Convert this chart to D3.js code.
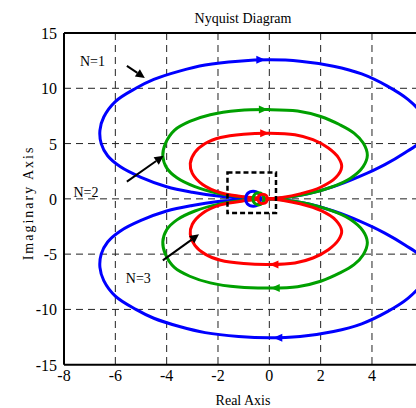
<!DOCTYPE html>
<html>
<head>
<meta charset="utf-8">
<script src="https://d3js.org/d3.v7.min.js"></script>
<style>
  body { margin: 0; background: #fff; }
  text { font-family: "Liberation Serif", "Times New Roman", serif; fill: #000; }
</style>
</head>
<body>
<div id="chart"></div>
<script>
// Tick labels
var xTicks = [-8, -6, -4, -2, 0, 2, 4];
var yTicks = [-15, -10, -5, 0, 5, 10, 15];
var xGrid = [-6, -4, -2, 0, 2, 4, 6];
var yGrid = [-10, -5, 0, 5, 10];

// Upper half of each Nyquist curve (positive frequencies), [real, imag]
var blueRe = [0, -1, -2, -3, -4, -5, -5.8, -6.3, -6.55, -6.6, -6.45, -6.0, -5.2, -4.5, -3.5, -2.5, -1.2, 0, 1.2, 2.5, 3.6, 4.6, 5.4, 5.9, 6.1, 5.9, 5.3, 4.5, 3.5, 2.5, 1.5, 0.6, 0];
var blueIm = [0, 0.06, 0.25, 0.6, 1.1, 1.95, 2.9, 3.9, 5.0, 6.2, 7.4, 8.8, 10.0, 10.8, 11.55, 12.1, 12.45, 12.57, 12.45, 12.0, 11.3, 10.2, 9.0, 7.8, 6.5, 5.2, 4.2, 3.1, 2.0, 1.1, 0.45, 0.1, 0];

var greenRe = [0, -1, -2, -2.9, -3.6, -4.0, -4.15, -4.05, -3.7, -3.1, -2.3, -1.2, 0, 1.1, 2.0, 2.75, 3.3, 3.66, 3.82, 3.65, 3.15, 2.4, 1.3, 0.5, 0];
var greenIm = [0, 0.15, 0.5, 1.1, 1.9, 2.8, 3.9, 5.0, 6.2, 7.0, 7.6, 7.98, 8.07, 7.95, 7.45, 6.7, 5.95, 5.05, 3.95, 2.9, 1.85, 1.05, 0.36, 0.08, 0];

var redRe = [0, -1, -1.9, -2.6, -3.0, -3.08, -2.9, -2.5, -1.9, -1.0, 0, 1.0, 1.7, 2.3, 2.7, 2.82, 2.6, 2.0, 1.2, 0.5, 0];
var redIm = [0, 0.18, 0.55, 1.3, 2.3, 3.2, 4.2, 5.0, 5.55, 5.85, 5.94, 5.8, 5.35, 4.6, 3.7, 2.9, 1.95, 1.05, 0.45, 0.12, 0];

// Small loops close to the origin (upper half)
var blueLoopRe = [-0.34, -0.4, -0.63, -0.86, -0.92];
var blueLoopIm = [0, 0.45, 0.68, 0.45, 0];
var greenLoopRe = [-0.2, -0.26, -0.42, -0.58, -0.64];
var greenLoopIm = [0, 0.38, 0.55, 0.38, 0];
var redLoopRe = [-0.08, -0.12, -0.26, -0.4, -0.44];
var redLoopIm = [0, 0.3, 0.42, 0.3, 0];

// Direction arrows on the top of each upper lobe
var arrowRe = [-0.35, -0.25, -0.2];
var arrowIm = [12.57, 8.07, 5.94];

var colors = ["#0000ff", "#00a000", "#ff0000"];

// Annotations: label text, label position, arrow tail and head
var noteText = ["N=1", "N=2", "N=3"];
var noteX = [-7.38, -7.63, -5.59];
var noteY = [12.0, 0.18, -7.6];
var noteTail = [[-5.55, 12.03], [-5.55, 1.56], [-4.15, -5.56]];
var noteHead = [[-4.85, 10.94], [-4.12, 3.89], [-2.74, -3.21]];

// Zoom box near the origin
var boxRe = [-1.63, 0.26];
var boxIm = [-1.29, 2.38];

var svgWidth = 416;
var svgHeight = 408;

var margin = { top: 33, left: 64 };
var plotRight = 423.3;
var plotBottom = 364.7;

var svg = d3.select("#chart")
  .append("svg")
  .attr("width", svgWidth)
  .attr("height", svgHeight);

svg.append("rect").attr("width", svgWidth).attr("height", svgHeight).attr("fill", "#fff");

var xScale = d3.scaleLinear().domain([-8, 6]).range([margin.left, plotRight]);
var yScale = d3.scaleLinear().domain([-15, 15]).range([plotBottom, margin.top]);

svg.append("clipPath").attr("id", "clip")
  .append("rect")
  .attr("x", margin.left).attr("y", margin.top)
  .attr("width", plotRight - margin.left).attr("height", plotBottom - margin.top);

// Dashed grid
var grid = svg.append("g").attr("stroke", "#222").attr("stroke-width", 1).attr("stroke-dasharray", "7,5");
grid.selectAll(".vx").data(xGrid).enter().append("line")
  .attr("x1", d => xScale(d)).attr("x2", d => xScale(d))
  .attr("y1", margin.top).attr("y2", plotBottom);
grid.selectAll(".hy").data(yGrid).enter().append("line")
  .attr("x1", margin.left).attr("x2", plotRight)
  .attr("y1", d => yScale(d)).attr("y2", d => yScale(d));

// Curves
var plot = svg.append("g").attr("clip-path", "url(#clip)");
var line = d3.line()
  .x(d => xScale(d[0]))
  .y(d => yScale(d[1]))
  .curve(d3.curveCatmullRom.alpha(0.5));
var loopLine = d3.line()
  .x(d => xScale(d[0]))
  .y(d => yScale(d[1]))
  .curve(d3.curveCatmullRomClosed.alpha(0.5));

function zipPts(re, im, sign) {
  return re.map((r, i) => [r, sign * im[i]]);
}

var curves = [[blueRe, blueIm], [greenRe, greenIm], [redRe, redIm]];
var loops = [[blueLoopRe, blueLoopIm], [greenLoopRe, greenLoopIm], [redLoopRe, redLoopIm]];

curves.forEach(function(c, i) {
  [1, -1].forEach(function(s) {
    plot.append("path")
      .attr("d", line(zipPts(c[0], c[1], s)))
      .attr("fill", "none")
      .attr("stroke", colors[i])
      .attr("stroke-width", 3);
  });
});

loops.forEach(function(c, i) {
  var upper = zipPts(c[0], c[1], 1);
  var lower = zipPts(c[0], c[1], -1).slice(1, -1).reverse();
  plot.append("path")
    .attr("d", loopLine(upper.concat(lower)))
    .attr("fill", "none")
    .attr("stroke", colors[i])
    .attr("stroke-width", 3);
});

// Small direction triangles: right on the upper lobes, left on the lower ones
arrowRe.forEach(function(r, i) {
  var px = xScale(r), py = yScale(arrowIm[i]);
  plot.append("path")
    .attr("d", `M${px - 4},${py - 4}L${px + 5},${py}L${px - 4},${py + 4}Z`)
    .attr("fill", colors[i]);
  var qx = xScale(-r), qy = yScale(-arrowIm[i]);
  plot.append("path")
    .attr("d", `M${qx + 4},${qy - 4}L${qx - 5},${qy}L${qx + 4},${qy + 4}Z`)
    .attr("fill", colors[i]);
});

// Dashed zoom box
svg.append("rect")
  .attr("x", xScale(boxRe[0]))
  .attr("y", yScale(boxIm[1]))
  .attr("width", xScale(boxRe[1]) - xScale(boxRe[0]))
  .attr("height", yScale(boxIm[0]) - yScale(boxIm[1]))
  .attr("fill", "none")
  .attr("stroke", "#000")
  .attr("stroke-width", 2.5)
  .attr("stroke-dasharray", "5,3");

// Axes frame
svg.append("line").attr("x1", margin.left).attr("x2", margin.left)
  .attr("y1", margin.top).attr("y2", plotBottom)
  .attr("stroke", "#000").attr("stroke-width", 2);
svg.append("line").attr("x1", margin.left).attr("x2", plotRight)
  .attr("y1", margin.top).attr("y2", margin.top)
  .attr("stroke", "#000").attr("stroke-width", 2);
svg.append("line").attr("x1", margin.left).attr("x2", plotRight)
  .attr("y1", plotBottom).attr("y2", plotBottom)
  .attr("stroke", "#000").attr("stroke-width", 2);

// Tick labels
svg.selectAll(".xt").data(xTicks).enter().append("text")
  .attr("x", d => xScale(d))
  .attr("y", plotBottom + 16)
  .attr("text-anchor", "middle")
  .attr("font-size", 16)
  .text(d => d);
svg.selectAll(".yt").data(yTicks).enter().append("text")
  .attr("x", margin.left - 7)
  .attr("y", d => yScale(d) + 6)
  .attr("text-anchor", "end")
  .attr("font-size", 16)
  .text(d => d);

// Titles
svg.append("text").attr("x", 243).attr("y", 23)
  .attr("text-anchor", "middle").attr("font-size", 14)
  .text("Nyquist Diagram");
svg.append("text").attr("x", 243).attr("y", 405)
  .attr("text-anchor", "middle").attr("font-size", 14)
  .text("Real Axis");
svg.append("text")
  .attr("transform", "translate(33,203) rotate(-90)")
  .attr("text-anchor", "middle").attr("font-size", 14)
  .attr("letter-spacing", 2)
  .text("Imaginary Axis");

// Annotations with black arrows
noteText.forEach(function(t, i) {
  svg.append("text")
    .attr("x", xScale(noteX[i]))
    .attr("y", yScale(noteY[i]))
    .attr("font-size", 14)
    .text(t);
  var x1 = xScale(noteTail[i][0]), y1 = yScale(noteTail[i][1]);
  var x2 = xScale(noteHead[i][0]), y2 = yScale(noteHead[i][1]);
  var ang = Math.atan2(y2 - y1, x2 - x1);
  var L = 9, W = 4.5;
  var bx = x2 - L * Math.cos(ang), by = y2 - L * Math.sin(ang);
  svg.append("line")
    .attr("x1", x1).attr("y1", y1).attr("x2", bx).attr("y2", by)
    .attr("stroke", "#000").attr("stroke-width", 2);
  svg.append("path")
    .attr("d", `M${x2},${y2}L${bx - W * Math.sin(ang)},${by + W * Math.cos(ang)}L${bx + W * Math.sin(ang)},${by - W * Math.cos(ang)}Z`)
    .attr("fill", "#000");
});
</script>
</body>
</html>
